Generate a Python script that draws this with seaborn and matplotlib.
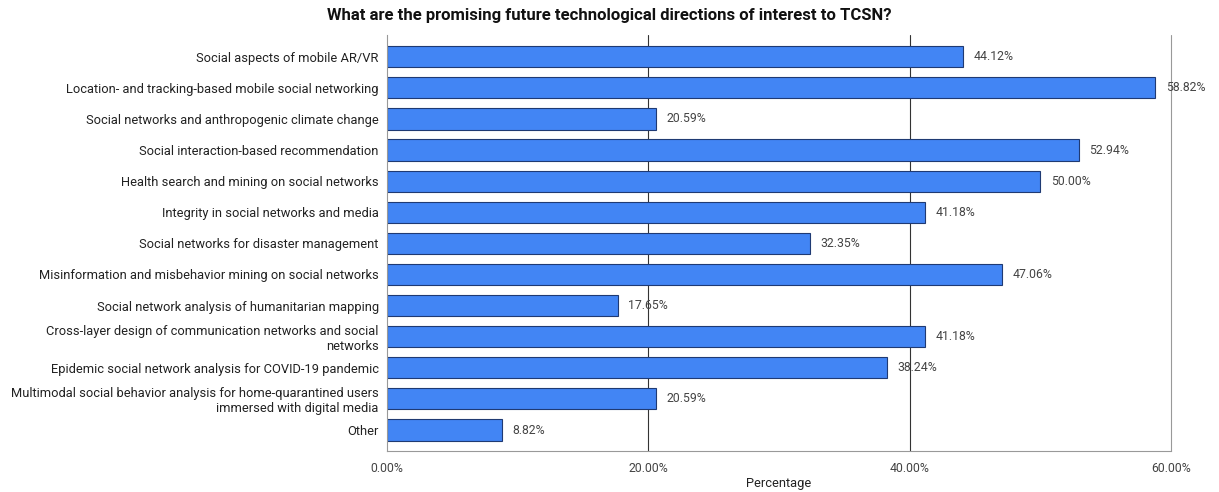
import pandas as pd
import matplotlib.pyplot as plt
import seaborn as sns

categories = [
    "Social aspects of mobile AR/VR",
    "Location- and tracking-based mobile social networking",
    "Social networks and anthropogenic climate change",
    "Social interaction-based recommendation",
    "Health search and mining on social networks",
    "Integrity in social networks and media",
    "Social networks for disaster management",
    "Misinformation and misbehavior mining on social networks",
    "Social network analysis of humanitarian mapping",
    "Cross-layer design of communication networks and social\nnetworks",
    "Epidemic social network analysis for COVID-19 pandemic",
    "Multimodal social behavior analysis for home-quarantined users\nimmersed with digital media",
    "Other",
]
percentages = [44.12, 58.82, 20.59, 52.94, 50.00, 41.18, 32.35, 47.06, 17.65, 41.18, 38.24, 20.59, 8.82]
xticks = [0, 20, 40, 60]


def plot_all():
    df = pd.DataFrame({"Direction": categories, "Percentage": percentages})

    sns.set_style("white")
    plt.rcParams['font.family'] = ['Roboto', 'DejaVu Sans']

    fig = plt.figure(figsize=(12.19, 4.92), dpi=100)
    ax = fig.add_axes([0.3175, 0.083, 0.643, 0.846])

    # vertical grid lines behind bars
    for x in xticks[1:]:
        c = "#333333" if x < 60 else "#999999"
        ax.axvline(x, color=c, lw=0.8, zorder=0, clip_on=False)

    sns.barplot(data=df, y="Direction", x="Percentage", orient="h",
                color="#4285F4", edgecolor="#1f3a73", linewidth=0.8,
                width=0.68, saturation=1, ax=ax, zorder=2)

    for i, v in enumerate(percentages):
        ax.text(v + 0.8, i, f"{v:.2f}%", va="center", ha="left",
                fontsize=8.8, color="#444444", zorder=3)

    ax.set_xlim(0, 60)
    ax.set_ylim(12.68, -0.7)
    ax.set_xticks(xticks)
    ax.set_xticklabels([f"{x:.2f}%" for x in xticks], fontsize=8.8, color="#444444")
    ax.tick_params(axis="y", labelsize=9.3, colors="#222222", length=0, pad=6)
    ax.tick_params(axis="x", length=3, color="#999999", pad=5)
    ax.set_ylabel("")
    ax.set_xlabel("Percentage", fontsize=9.3, color="#222222", labelpad=1)
    fig.text(0.5, 0.968, "What are the promising future technological directions of interest to TCSN?",
             fontsize=12, fontweight="bold", ha="center", va="center", color="#111111")

    for s in ["top", "right"]:
        ax.spines[s].set_visible(False)
    ax.spines["left"].set_color("#999999")
    ax.spines["bottom"].set_color("#999999")

    fig.savefig("out.png", dpi=100)


if __name__ == "__main__":
    plot_all()
